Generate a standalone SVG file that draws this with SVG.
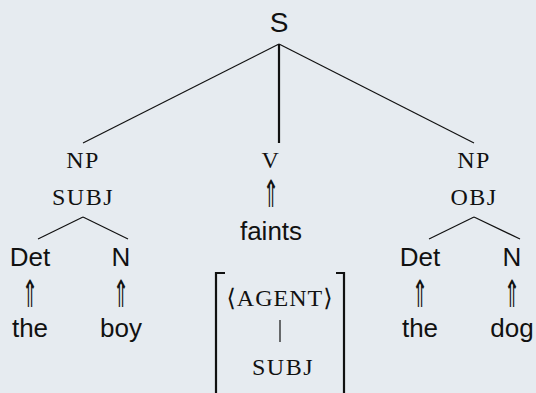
<svg xmlns="http://www.w3.org/2000/svg" width="536" height="393" viewBox="0 0 536 393">
  <style>
    .sans { font-family: "Liberation Sans", "DejaVu Sans", sans-serif; font-size: 26px; fill: #111; text-anchor: middle; }
    .sc { font-family: "Liberation Serif", "DejaVu Serif", serif; font-size: 24px; letter-spacing: 1.5px; fill: #111; text-anchor: middle; }
    .arr { font-family: "DejaVu Sans", sans-serif; font-size: 30px; fill: #111; text-anchor: middle; }
    .edge { stroke: #111; stroke-width: 1.2; fill: none; }
    .head { stroke: #111; stroke-width: 2.2; fill: none; }
    .brk { stroke: #111; stroke-width: 2.2; fill: none; }
  </style>
  <rect width="536" height="393" fill="#e6ebf0"/>

  <g id="connectors">
    <line class="edge" x1="279" y1="44" x2="83" y2="143"/>
    <line class="head" x1="279" y1="44" x2="279" y2="143"/>
    <line class="edge" x1="279" y1="44" x2="474" y2="143"/>
    <line class="edge" x1="83" y1="217" x2="38" y2="239"/>
    <line class="edge" x1="83" y1="217" x2="128" y2="239"/>
    <line class="edge" x1="474" y1="217" x2="429" y2="239"/>
    <line class="edge" x1="474" y1="217" x2="520" y2="239"/>
  </g>

  <g id="node-s">
    <text class="sans" x="279" y="32" style="font-size:28px">S</text>
  </g>

  <g id="node-np-subj">
    <text class="sc" x="83" y="168">NP</text>
    <text class="sc" x="83" y="205">SUBJ</text>
  </g>

  <g id="node-v">
    <text class="sc" x="271" y="168">V</text>
    <text class="arr" x="271" y="205" transform="translate(271,195) scale(0.65,1.25) translate(-271,-195)">⇑</text>
    <text class="sans" x="271" y="240">faints</text>
  </g>

  <g id="node-np-obj">
    <text class="sc" x="474" y="168">NP</text>
    <text class="sc" x="474" y="205">OBJ</text>
  </g>

  <g id="node-det-1">
    <text class="sans" x="30" y="266">Det</text>
    <text class="arr" x="30" y="305" transform="translate(30,295) scale(0.65,1.25) translate(-30,-295)">⇑</text>
    <text class="sans" x="30" y="337">the</text>
  </g>

  <g id="node-n-1">
    <text class="sans" x="121" y="266">N</text>
    <text class="arr" x="121" y="305" transform="translate(121,295) scale(0.65,1.25) translate(-121,-295)">⇑</text>
    <text class="sans" x="121" y="337">boy</text>
  </g>

  <g id="node-det-2">
    <text class="sans" x="420" y="266">Det</text>
    <text class="arr" x="420" y="305" transform="translate(420,295) scale(0.65,1.25) translate(-420,-295)">⇑</text>
    <text class="sans" x="420" y="337">the</text>
  </g>

  <g id="node-n-2">
    <text class="sans" x="512" y="266">N</text>
    <text class="arr" x="512" y="305" transform="translate(512,295) scale(0.65,1.25) translate(-512,-295)">⇑</text>
    <text class="sans" x="512" y="337">dog</text>
  </g>

  <g id="node-fstructure">
    <path class="brk" d="M225,273 H216 V393"/>
    <path class="brk" d="M336,273 H344 V393"/>
    <text class="sc" x="280" y="306" style="letter-spacing:1px">⟨AGENT⟩</text>
    <line class="edge" x1="280" y1="320" x2="280" y2="342"/>
    <text class="sc" x="283" y="375">SUBJ</text>
  </g>
</svg>
